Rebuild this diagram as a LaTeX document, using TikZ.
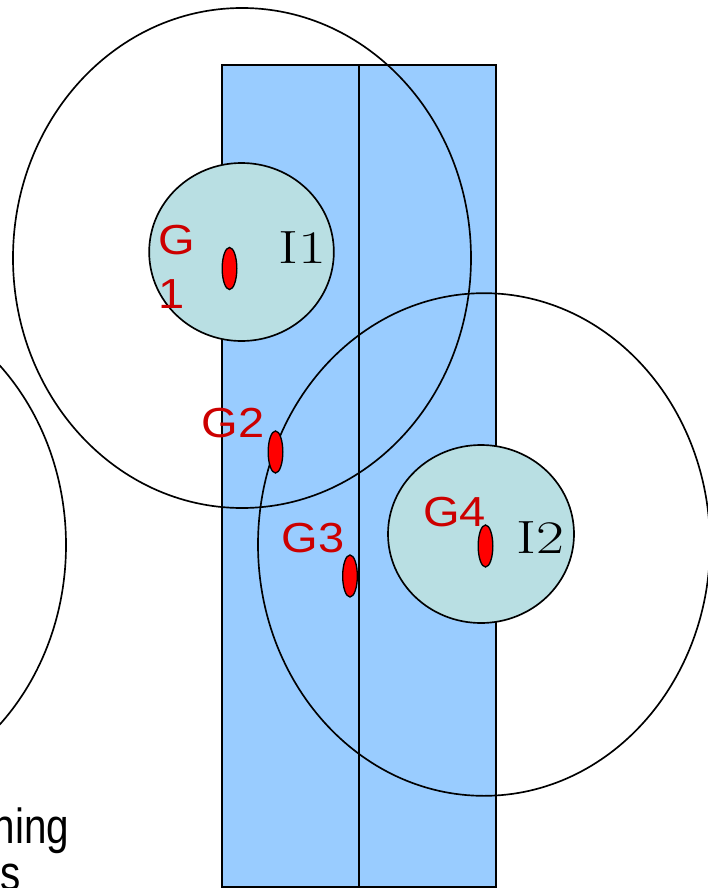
\documentclass[tikz,border=0pt]{standalone}
\usepackage{fontspec}
\newfontfamily\lblfont{Liberation Sans}[FakeStretch=1.12]
\newfontfamily\notefont{Liberation Sans}[FakeStretch=0.82]
\newfontfamily\idfont{Latin Modern Roman}[FakeStretch=1.3]
\definecolor{ZoneBlue}{RGB}{153, 204, 255}
\definecolor{CellTeal}{RGB}{185, 223, 227}
\definecolor{TagRed}{RGB}{204, 0, 0}
\usetikzlibrary{shapes.geometric}

\begin{document}
\begin{tikzpicture}[x=0.75pt, y=-0.75pt, line width=1.25pt,
  ring/.style={draw, ellipse, inner sep=0pt},
  cell/.style={draw, ellipse, fill=CellTeal, inner sep=0pt, minimum width=138.5pt, minimum height=133.5pt},
  gw/.style={draw, ellipse, fill=red, inner sep=0pt, minimum width=11pt, minimum height=31.5pt, line width=1pt},
  tag/.style={inner sep=0pt, text=TagRed, font=\lblfont\fontsize{31.5}{41}\selectfont},
  cid/.style={inner sep=0pt, font=\idfont\fontsize{35}{40}\selectfont},
  note/.style={inner sep=0pt, font=\notefont\fontsize{37}{40}\selectfont}]
\useasboundingbox (0,0) rectangle (707,888);
\draw[fill=ZoneBlue] (222,65) rectangle (496,887);
\coordinate (dtop) at (359,65);
\coordinate (dbot) at (359,887);
\draw (dtop) -- (dbot);
\node[cell] (c1) at (241.5,252) {};
\node[cell, minimum width=139.5pt] (c2) at (481,534) {};
\node[ring, minimum width=343.5pt, minimum height=375pt] (r1) at (242,258) {};
\node[ring, minimum width=339pt, minimum height=377pt] (r2) at (484,544.5) {};
\node[ring, minimum width=330pt, minimum height=376.5pt] (r0) at (-154,545) {};
\node[gw] (g1) at (229.5,268.5) {};
\node[gw] (g2) at (275.5,452) {};
\node[gw] (g3) at (350,576) {};
\node[gw] (g4) at (485.5,546) {};
\node[tag, align=left, anchor=west] (t1) at (158,267) {G\\1};
\node[tag] (t2) at (233,423) {G2};
\node[tag] (t3) at (313,538) {G3};
\node[tag] (t4) at (454.5,512.5) {G4};
\node[cid] (i1) at (302.5,248) {I1};
\node[cid] (i2) at (540.5,537.5) {I2};
\node[note, anchor=base east] (n1) at (70,843) {hing};
\node[note, anchor=base west] (n2) at (0,890) {s};
\end{tikzpicture}
\end{document}
